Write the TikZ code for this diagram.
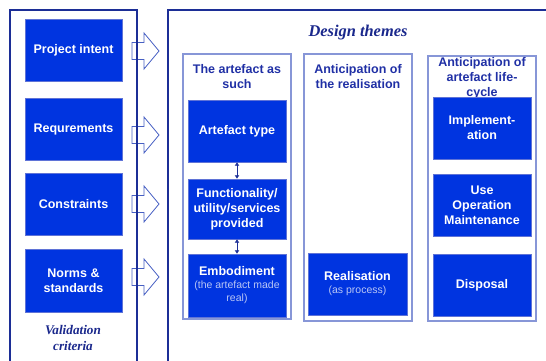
\documentclass[tikz,border=0pt]{standalone}
\usepackage{fontspec}
\setmainfont{Liberation Sans}
\newfontfamily\titleserif{Liberation Serif}
\usepackage{tikz}
\usetikzlibrary{arrows.meta}

\definecolor{navyline}{RGB}{28,46,150}
\definecolor{boxblue}{RGB}{0,52,224}
\definecolor{boxedge}{RGB}{95,115,215}
\definecolor{frameblue}{RGB}{135,150,215}
\definecolor{headblue}{RGB}{32,48,165}
\definecolor{titleblue}{RGB}{26,40,140}
\definecolor{arrowblue}{RGB}{70,95,195}
\definecolor{softtxt}{RGB}{185,198,245}

\newcommand\smalltxt{\fontsize{10.5}{12.5}\selectfont\mdseries\color{softtxt}}

\tikzset{
  bluebox/.style={draw=boxedge,fill=boxblue,text=white,inner sep=0pt,
    font=\fontsize{12.5}{15}\selectfont\bfseries,align=center,
    minimum width=98pt,minimum height=62pt},
  colframe/.style={draw=frameblue,line width=1.2pt},
  colhead/.style={text=headblue,font=\fontsize{12.5}{15}\selectfont\bfseries,align=center},
  bigtitle/.style={text=titleblue,font=\titleserif\bfseries\itshape},
  outerline/.style={draw=navyline,line width=1.8pt},
  blockarrow/.style={draw=arrowblue,fill=white,line width=0.8pt,line join=miter},
  twoway/.style={{Latex[length=3.5pt,width=5pt]}-{Latex[length=3.5pt,width=5pt]},
    draw=navyline,line width=0.9pt}
}

\begin{document}
\begin{tikzpicture}[x=1pt,y=-1pt]
\useasboundingbox (0,0) rectangle (546,360);
% frames of the three themes
\draw[colframe] (183,54) rectangle (291,319);
\draw[colframe] (304,54) rectangle (412,321);
\draw[colframe] (428,56) rectangle (536,321);
\node[colhead] (headA) at (237,77) {The artefact as\\such};
\node[colhead] (headB) at (358,77) {Anticipation of\\the realisation};
\node[colhead] (headC) at (482,78) {Anticipation of\\artefact life-\\cycle};
% validation criteria
\node[bluebox,minimum width=97pt] (intent) at (73.5,50.5) {Project intent};
\node[bluebox,minimum width=97pt] (req) at (73.5,129) {Requrements};
\node[bluebox,minimum width=97pt] (constr) at (73.5,204) {Constraints};
\node[bluebox,minimum width=97pt,minimum height=63pt] (norms) at (73.5,280.5) {Norms \&\\standards};
\node[bigtitle,font=\titleserif\bfseries\itshape\fontsize{13.2}{16.5}\selectfont,align=center] (valid) at (73,338) {Validation\\criteria};
% the artefact as such
\node[bluebox] (type) at (237,131) {Artefact type};
\node[bluebox,minimum height=60pt] (func) at (237,209) {Functionality/\\utility/services\\provided};
\node[bluebox,minimum height=63pt] (embod) at (237,285.5) {Embodiment\\[-2pt]{\smalltxt (the artefact made}\\[-2pt]{\smalltxt real)}};
\draw[twoway] (type) -- (func);
\draw[twoway] (func) -- (embod);
% realisation
\node[bluebox,minimum width=99pt] (real) at (357.5,284) {Realisation\\[-2pt]{\smalltxt (as process)}};
% life-cycle
\node[bluebox] (impl) at (482,128) {Implement-\\ation};
\node[bluebox] (use) at (482,205) {Use\\Operation\\Maintenance};
\node[bluebox] (disp) at (482,285) {Disposal};
\node[bigtitle,font=\titleserif\bfseries\itshape\fontsize{16.4}{19}\selectfont] (themes) at (358,33) {Design themes};
% arrows into the themes
\foreach \y in {51,135,204,277}
  \draw[blockarrow] (132,\y-8.5) -- (144,\y-8.5) -- (144,\y-18) -- (159,\y)
    -- (144,\y+18) -- (144,\y+8.5) -- (132,\y+8.5) -- cycle;
% outer frames
\draw[outerline] (10,362) -- (10,10) -- (137,10) -- (137,362);
\draw[outerline] (168,362) -- (168,10) -- (548,10);
\end{tikzpicture}
\end{document}
